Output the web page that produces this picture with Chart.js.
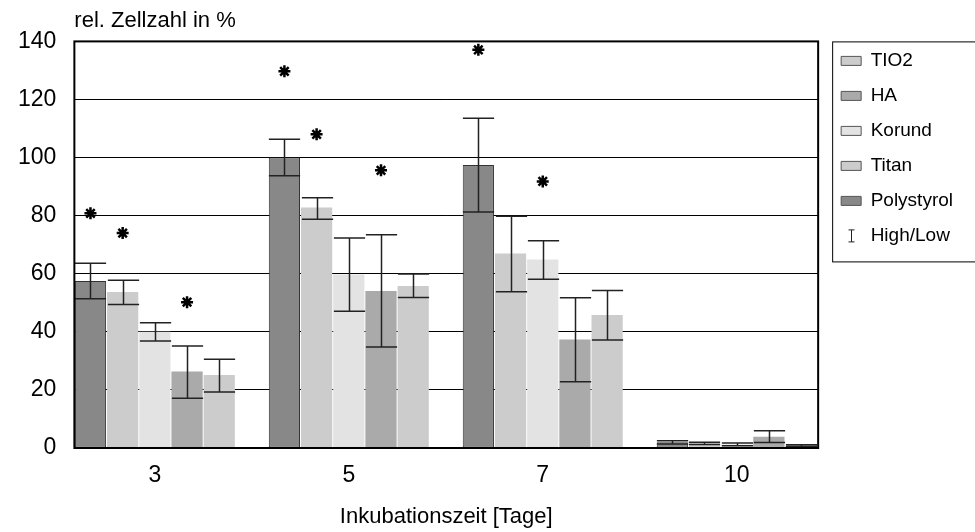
<!DOCTYPE html>
<html lang="de">
<head>
<meta charset="UTF-8">
<title>Relative Zellzahl</title>
<script src="https://cdn.jsdelivr.net/npm/chart.js@4"></script>
<style>
  body { margin: 0; background: #fff; }
  .chart-container { width: 975px; height: 532px; }
</style>
</head>
<body>
<div class="chart-container"><canvas id="barChart"></canvas></div>
<script>
// Inkubationszeit [Tage]
const days = ['3', '5', '7', '10'];
const yTicks = [0, 20, 40, 60, 80, 100, 120, 140];

// Mittelwerte (rel. Zellzahl in %)
const polystyrol = [57.5, 100.0, 97.4, 2.0];
const tio2 = [53.7, 82.8, 67.0, 1.6];
const korund = [40.0, 59.7, 64.9, 1.2];
const ha = [26.3, 54.1, 37.4, 3.9];
const titan = [25.1, 55.8, 45.8, 0.8];

// High/Low
const polystyrolHigh = [63.6, 106.3, 113.5, 2.5];
const polystyrolLow = [51.4, 93.7, 81.3, 1.4];
const tio2High = [57.8, 86.2, 79.8, 2.0];
const tio2Low = [49.4, 78.8, 53.8, 1.2];
const korundHigh = [43.1, 72.3, 71.4, 1.7];
const korundLow = [36.8, 47.1, 58.1, 0.8];
const haHigh = [35.1, 73.4, 51.7, 5.9];
const haLow = [17.1, 34.8, 22.8, 1.9];
const titanHigh = [30.6, 59.9, 54.2, 1.1];
const titanLow = [19.3, 51.8, 37.2, 0.5];

// Signifikanz-Sternchen (Hoehe in %)
const polystyrolStars = [80.8, 129.7, 137.1, null];
const tio2Stars = [74.0, 108.0, null, null];
const korundStars = [null, null, 91.8, null];
const haStars = [50.2, 95.6, null, null];
const titanStars = [null, null, null, null];

const toPoints = values => values.map((v, i) => ({ x: i, y: v }));

function makeSet(label, values, high, low, stars, color, border) {
    return {
        label: label,
        data: toPoints(values),
        high: high,
        low: low,
        stars: stars,
        backgroundColor: color,
        borderColor: border || color,
        borderWidth: border ? 1 : 0,
        borderSkipped: false
    };
}

const datasets = [
    makeSet('Polystyrol', polystyrol, polystyrolHigh, polystyrolLow, polystyrolStars, '#888888', '#333333'),
    makeSet('TIO2', tio2, tio2High, tio2Low, tio2Stars, '#cccccc'),
    makeSet('Korund', korund, korundHigh, korundLow, korundStars, '#e3e3e3'),
    makeSet('HA', ha, haHigh, haLow, haStars, '#aaaaaa'),
    makeSet('Titan', titan, titanHigh, titanLow, titanStars, '#cccccc')
];

const legendOrder = [1, 3, 2, 4, 0];

// rahmen um die Zeichenflaeche + Legendenrahmen
const framePlugin = {
    id: 'frame',
    afterLayout(chart) {
        // Legende etwas nach rechts/oben wie im Original
        const lg = chart.legend;
        lg.left += 7; lg.right += 7;
        lg.top -= 6; lg.bottom -= 6;
    },
    afterDraw(chart) {
        const ctx = chart.ctx;
        const a = chart.chartArea;
        ctx.save();
        ctx.strokeStyle = '#000';
        ctx.lineWidth = 2;
        ctx.strokeRect(a.left, a.top, a.right - a.left, a.bottom - a.top);

        const boxes = chart.legend.legendHitBoxes;
        if (boxes && boxes.length) {
            const first = boxes[0];
            const last = boxes[boxes.length - 1];
            ctx.lineWidth = 1;
            ctx.strokeRect(first.left - 8.5, a.top + 0.5, chart.width, last.top + last.height + 16 - a.top);
            // I-Symbol fuer High/Low
            const cx = Math.round(last.left + 10) + 0.5;
            const cy = last.top + last.height / 2;
            ctx.strokeStyle = '#222';
            ctx.beginPath();
            ctx.moveTo(cx, cy - 6); ctx.lineTo(cx, cy + 6);
            ctx.moveTo(cx - 3, cy - 6); ctx.lineTo(cx + 3, cy - 6);
            ctx.moveTo(cx - 3, cy + 6); ctx.lineTo(cx + 3, cy + 6);
            ctx.stroke();
        }
        ctx.restore();
    }
};

const errorBarPlugin = {
    id: 'errorBars',
    afterDatasetsDraw(chart) {
        const ctx = chart.ctx;
        const y = chart.scales.y;
        ctx.save();
        chart.data.datasets.forEach((ds, i) => {
            const meta = chart.getDatasetMeta(i);
            meta.data.forEach((bar, j) => {
                const x = Math.round(bar.x) + 0.5;
                const half = bar.width / 2;
                const yHi = y.getPixelForValue(ds.high[j]);
                const yLo = y.getPixelForValue(ds.low[j]);
                ctx.strokeStyle = '#222';
                ctx.lineWidth = 1.5;
                ctx.beginPath();
                ctx.moveTo(x, yHi); ctx.lineTo(x, yLo);
                ctx.moveTo(x - half, yHi); ctx.lineTo(x + half, yHi);
                ctx.moveTo(x - half, yLo); ctx.lineTo(x + half, yLo);
                ctx.stroke();

                if (ds.stars[j] != null) {
                    ctx.lineWidth = 2.5;
                    ctx.strokeStyle = '#000';
                    Chart.helpers.drawPoint(ctx, { pointStyle: 'star', radius: 6, rotation: 0, borderWidth: 2.5 },
                        bar.x, y.getPixelForValue(ds.stars[j]));
                }
            });
        });
        ctx.restore();
    }
};

Chart.defaults.font.family = "'Liberation Sans', Arial, sans-serif";
Chart.defaults.color = '#000';

new Chart(document.getElementById('barChart'), {
    type: 'bar',
    data: { datasets: datasets },
    options: {
        responsive: true,
        maintainAspectRatio: false,
        animation: false,
        categoryPercentage: 0.83,
        barPercentage: 0.97,
        layout: { padding: { left: 0, right: 19, top: 0, bottom: 0 } },
        scales: {
            x: {
                type: 'linear',
                min: -0.415,
                max: 3.42,
                offset: false,
                afterBuildTicks(scale) {
                    scale.ticks = days.map((d, i) => ({ value: i }));
                },
                ticks: {
                    callback: v => days[v],
                    font: { size: 23 },
                    padding: 14,
                    maxRotation: 0
                },
                grid: { display: false, drawTicks: false },
                border: { display: false },
                title: {
                    display: true,
                    text: 'Inkubationszeit [Tage]',
                    font: { size: 22 },
                    padding: { top: 0, bottom: 2 }
                }
            },
            y: {
                min: yTicks[0],
                max: yTicks[yTicks.length - 1],
                afterBuildTicks(scale) {
                    scale.ticks = yTicks.map(v => ({ value: v }));
                },
                ticks: { font: { size: 23 }, padding: 18 },
                grid: { color: '#000', lineWidth: 1, drawTicks: false },
                border: { display: false }
            }
        },
        plugins: {
            title: {
                display: true,
                text: 'rel. Zellzahl in %',
                align: 'start',
                fullSize: false,
                font: { size: 22, weight: 'normal' },
                padding: { top: 8, bottom: 7 }
            },
            legend: {
                position: 'right',
                align: 'start',
                fullSize: false,
                onClick: () => {},
                labels: {
                    boxWidth: 20,
                    boxHeight: 9,
                    padding: 16,
                    font: { size: 19 },
                    generateLabels(chart) {
                        const items = legendOrder.map(i => {
                            const ds = chart.data.datasets[i];
                            return {
                                text: ds.label,
                                fillStyle: ds.backgroundColor,
                                strokeStyle: '#555',
                                lineWidth: 1,
                                datasetIndex: i,
                                hidden: false
                            };
                        });
                        items.push({
                            text: 'High/Low',
                            fillStyle: 'rgba(0,0,0,0)',
                            strokeStyle: 'rgba(0,0,0,0)',
                            lineWidth: 0,
                            datasetIndex: -1,
                            hidden: false
                        });
                        return items;
                    }
                }
            },
            tooltip: { enabled: false }
        }
    },
    plugins: [framePlugin, errorBarPlugin]
});
</script>
</body>
</html>
